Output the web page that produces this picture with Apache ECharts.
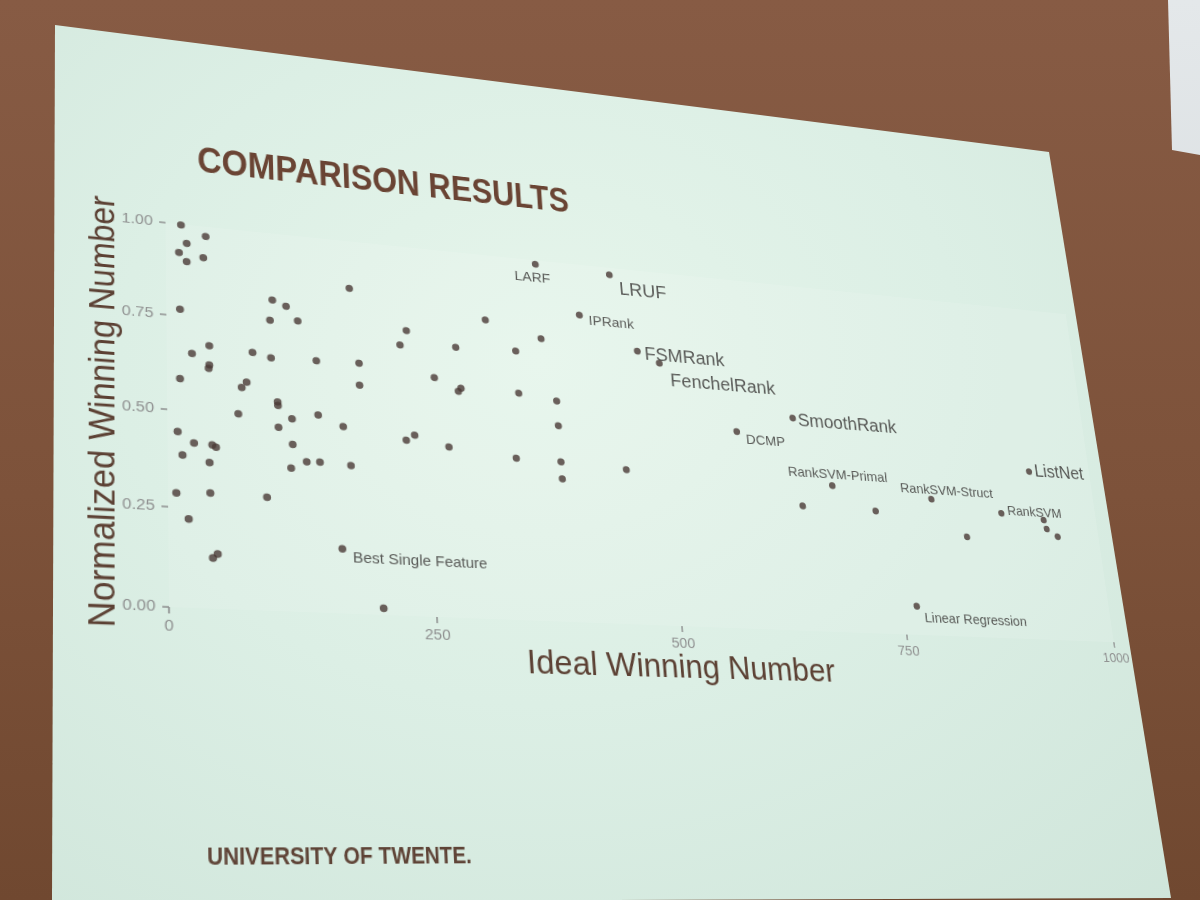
<!DOCTYPE html>
<html>
<head>
<meta charset="utf-8">
<script src="https://cdn.jsdelivr.net/npm/echarts@6/dist/echarts.min.js"></script>
<style>
  html, body { margin: 0; padding: 0; width: 1200px; height: 900px; overflow: hidden; }
  body { background: linear-gradient(180deg, #875b44 0%, #7d523a 55%, #704830 100%); position: relative; }
  #window { position: absolute; left: 0; top: 0; width: 1200px; height: 900px;
    background: linear-gradient(180deg, #e4e8ea, #c9cfd3);
    clip-path: polygon(1168px 0px, 1200px 0px, 1200px 155px, 1172px 150px); }
  #slide { position: absolute; left: 0; top: 0; width: 1200px; height: 900px;
    background: radial-gradient(ellipse at 45% 40%, #e6f5eb 0%, #dcefe5 45%, #cfe5da 100%);
    clip-path: polygon(55px 25px, 1049px 152px, 1171px 898px, 52px 902px); }
  #chart { position: absolute; left: 0; top: 0; width: 1250px; height: 950px;
    transform-origin: 0 0;
    transform: matrix3d(1.154, 0.15584, 0, 0.00018776, -0.016842, 0.976421, 0, -0.00015674, 0, 0, 1, 0, -16.9905, -10.2275, 0, 1.062907); }
</style>
</head>
<body>
<div id="window"></div>
<div id="slide"></div>
<div id="chart"></div>
<script>
// ---- data ----
const xTicks = [0, 250, 500, 750, 1000];
const yTicks = [0, 0.25, 0.5, 0.75, 1];

// unlabeled methods
const otherX = [14.6, 38.0, 19.8, 12.4, 35.4, 19.6, 177.1, 12.8, 100.9, 114.1, 98.2, 125.1,
  39.8, 23.5, 80.7, 98.3, 142.1, 184.0, 39.6, 38.9, 12.1, 74.5, 69.7, 183.7,
  103.6, 103.8, 66.0, 116.9, 142.2, 9.4, 103.8, 166.2, 225.8, 24.3, 41.2, 44.6,
  13.6, 38.4, 116.9, 114.8, 129.8, 142.5, 172.4, 7.6, 38.7, 91.3, 18.6, 40.2,
  44.6, 198.7, 227.8, 236.4, 270.3, 314.8, 232.8, 282.5, 372.5, 344.8, 259.0, 285.7,
  282.8, 345.2, 384.7, 384.7, 338.5, 384.9, 385.1, 453.8, 646.1, 730.2, 933.4, 935.7,
  948.2, 835.8];
const otherY = [0.998, 0.973, 0.949, 0.922, 0.914, 0.899, 0.867, 0.768, 0.815, 0.801, 0.759, 0.764,
  0.676, 0.652, 0.668, 0.657, 0.659, 0.662, 0.625, 0.616, 0.583, 0.587, 0.572, 0.602,
  0.540, 0.531, 0.501, 0.498, 0.513, 0.444, 0.473, 0.487, 0.722, 0.417, 0.415, 0.410,
  0.384, 0.369, 0.430, 0.368, 0.387, 0.388, 0.384, 0.286, 0.291, 0.288, 0.222, 0.126,
  0.137, 0.017, 0.462, 0.477, 0.451, 0.813, 0.763, 0.728, 0.774, 0.732, 0.639, 0.615,
  0.606, 0.614, 0.600, 0.531, 0.433, 0.431, 0.384, 0.421, 0.350, 0.348, 0.351, 0.325,
  0.304, 0.288];

// labeled methods
const labelNames = ['Best Single Feature', 'LARF', 'LRUF', 'IPRank', 'FSMRank', 'FenchelRank',
  'DCMP', 'SmoothRank', 'RankSVM-Primal', 'RankSVM-Struct', 'ListNet', 'RankSVM', 'Linear Regression'];
const labelX = [161.2, 371.6, 451.7, 415.5, 476.0, 499.3, 579.3, 645.0, 682.7, 798.3, 923.4, 881.7, 765.5];
const labelY = [0.165, 0.988, 0.979, 0.852, 0.762, 0.732, 0.551, 0.603, 0.414, 0.393, 0.495, 0.364, 0.081];

// ---- styles (not data) ----
const labelStyle = {
  'Best Single Feature': { position: 'right', offset: [2, 9], fontSize: 15 },
  'LARF': { position: 'bottom', offset: [-4, 0], fontSize: 15 },
  'LRUF': { position: 'right', offset: [2, 16], fontSize: 20 },
  'IPRank': { position: 'right', offset: [2, 6], fontSize: 15 },
  'FSMRank': { position: 'right', offset: [0, 3], fontSize: 20 },
  'FenchelRank': { position: 'right', offset: [3, 19], fontSize: 20 },
  'DCMP': { position: 'right', offset: [2, 8], fontSize: 15 },
  'SmoothRank': { position: 'right', offset: [-2, 3], fontSize: 20 },
  'RankSVM-Primal': { position: 'top', offset: [8, 3], fontSize: 15 },
  'RankSVM-Struct': { position: 'top', offset: [20, 5], fontSize: 15 },
  'ListNet': { position: 'right', offset: [-1, 0], fontSize: 20 },
  'RankSVM': { position: 'right', offset: [0, -3], fontSize: 15 },
  'Linear Regression': { position: 'right', offset: [0, 13], fontSize: 15 }
};

const FONT = '"Liberation Sans", Arial, Helvetica, sans-serif';
const pointColor = '#4a3a36';
const tickColor = '#8f9090';
const nameColor = '#5c4134';

const chart = echarts.init(document.getElementById('chart'), null, { renderer: 'canvas' });

chart.setOption({
  backgroundColor: 'transparent',
  animation: false,
  textStyle: { fontFamily: FONT },
  grid: { left: 170, top: 225, width: 1000, height: 380, show: true,
    backgroundColor: 'rgba(255,255,255,0.10)', borderWidth: 0 },
  xAxis: {
    type: 'value', min: xTicks[0], max: xTicks[xTicks.length - 1], interval: xTicks[1] - xTicks[0],
    axisLine: { show: false },
    axisTick: { show: true, length: 6, lineStyle: { color: tickColor, width: 1.5 } },
    axisLabel: { color: tickColor, fontSize: 15, margin: 10, fontFamily: FONT,
      formatter: v => String(v) },
    splitLine: { show: false },
    name: 'Ideal Winning Number', nameLocation: 'middle', nameGap: 26, nameMoveOverlap: false,
    nameTextStyle: { fontSize: 33, color: nameColor, fontFamily: FONT }
  },
  yAxis: {
    type: 'value', min: yTicks[0], max: yTicks[yTicks.length - 1], interval: yTicks[1] - yTicks[0],
    axisLine: { show: false },
    axisTick: { show: true, length: 6, lineStyle: { color: tickColor, width: 1.5 } },
    axisLabel: { color: tickColor, fontSize: 15, margin: 12, fontFamily: FONT,
      formatter: v => v.toFixed(2) },
    splitLine: { show: false },
    name: 'Normalized Winning Number', nameLocation: 'middle', nameRotate: 90, nameGap: 41,
    nameMoveOverlap: false,
    nameTextStyle: { fontSize: 33, color: nameColor, fontFamily: FONT }
  },
  graphic: [
    { type: 'text', x: 201, y: 157, scaleX: 0.86,
      style: { text: 'COMPARISON RESULTS', font: 'bold 38px ' + FONT, fill: '#6a4434',
        textAlign: 'left', textVerticalAlign: 'middle' } },
    { type: 'text', x: 201, y: 831, scaleX: 0.88,
      style: { text: 'UNIVERSITY OF TWENTE.', font: 'bold 22px ' + FONT, fill: '#5e4336',
        textAlign: 'left', textVerticalAlign: 'middle' } }
  ],
  series: [
    {
      type: 'scatter', symbolSize: 7.5,
      itemStyle: { color: pointColor },
      data: otherX.map((x, i) => [x, otherY[i]])
    },
    {
      type: 'scatter', symbolSize: 7.5,
      itemStyle: { color: pointColor },
      data: labelNames.map((n, i) => ({
        name: n, value: [labelX[i], labelY[i]],
        label: Object.assign({ show: true, formatter: '{b}', color: '#363332', distance: 4,
          fontFamily: FONT }, labelStyle[n])
      }))
    }
  ]
});
</script>
</body>
</html>
